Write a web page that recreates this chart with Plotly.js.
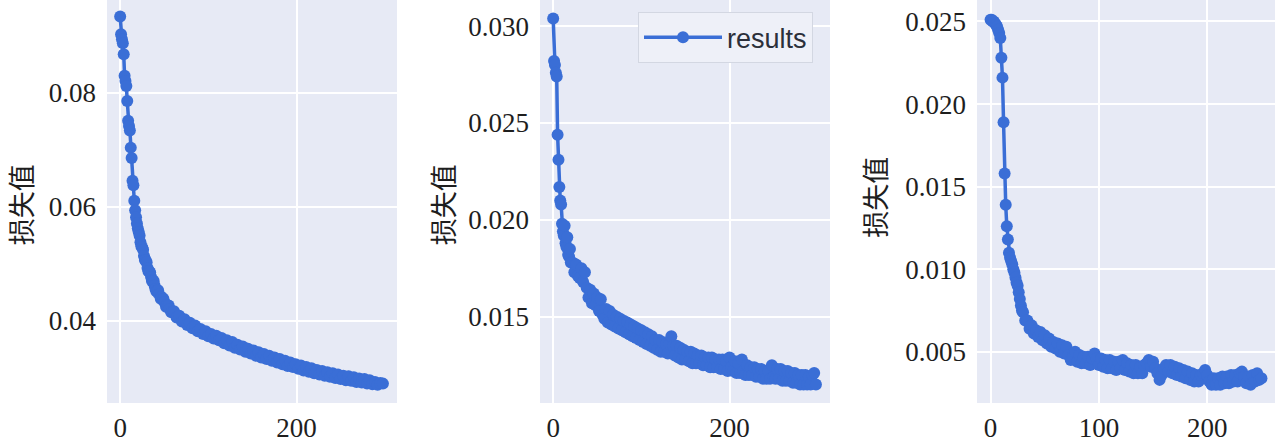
<!DOCTYPE html>
<html>
<head>
<meta charset="utf-8">
<script src="https://cdn.plot.ly/plotly-3.0.1.min.js"></script>
<style>html,body{margin:0;padding:0;background:#fff;}#chart{width:1280px;height:442px;}</style>
</head>
<body>
<div id="chart"></div>
<script>
// Panel 1
const epochs1 = [0,1,2,3,4,5,6,7,8,9,10,11,12,13,14,15,16,17,18,19,20,21,22,23,24,25,26,27,28,29,30,31,32,33,34,35,36,37,38,39,40,41,43,44,46,47,49,50,52,53,55,56,58,61,64,67,70,73,76,79,82,85,88,91,94,97,100,103,106,109,112,115,118,121,124,127,130,133,136,139,142,145,148,151,154,157,160,163,166,169,172,175,178,181,184,187,190,193,196,199,202,205,208,211,214,217,220,223,226,229,232,235,238,241,244,247,250,253,256,259,262,265,268,271,274,277,280,283,286,289,292,295,298];
const loss1 = [0.0934,0.0903,0.0894,0.0887,0.0868,0.0830,0.0821,0.0812,0.0786,0.0751,0.0742,0.0734,0.0704,0.0686,0.0646,0.0638,0.0611,0.0594,0.0582,0.0571,0.0562,0.0556,0.0550,0.0538,0.0531,0.0529,0.0525,0.0514,0.0507,0.0506,0.0503,0.0493,0.0487,0.0487,0.0485,0.0477,0.0470,0.0471,0.0470,0.0462,0.0456,0.0452,0.0454,0.0447,0.0439,0.0442,0.0439,0.0433,0.0425,0.0428,0.0427,0.0421,0.0415,0.0417,0.0406,0.0409,0.0399,0.0403,0.0393,0.0397,0.0387,0.0392,0.0382,0.0386,0.0377,0.0382,0.0373,0.0377,0.0369,0.0374,0.0366,0.0370,0.0361,0.0366,0.0357,0.0363,0.0353,0.0358,0.0350,0.0355,0.0346,0.0351,0.0343,0.0348,0.0339,0.0345,0.0336,0.0342,0.0333,0.0339,0.0330,0.0336,0.0327,0.0333,0.0324,0.0330,0.0321,0.0327,0.0319,0.0324,0.0316,0.0322,0.0313,0.0319,0.0311,0.0317,0.0308,0.0314,0.0306,0.0312,0.0304,0.0310,0.0302,0.0308,0.0300,0.0306,0.0298,0.0304,0.0296,0.0303,0.0295,0.0301,0.0293,0.0299,0.0292,0.0298,0.0290,0.0296,0.0289,0.0293,0.0288,0.0291,0.0290];

// Panel 2
const epochs2 = [0,1,2,3,4,5,6,7,8,9,10,11,12,13,14,15,16,17,18,19,20,22,24,26,28,30,32,34,36,38,40,42,44,46,48,50,52,54,56,58,60,62,64,66,68,70,72,74,76,78,80,82,84,86,88,90,92,94,96,98,100,102,104,106,108,110,112,114,116,118,120,122,124,126,128,130,132,134,136,138,140,142,144,146,148,150,152,154,156,158,160,162,164,166,168,170,172,174,176,178,180,182,184,186,188,190,192,194,196,198,200,202,204,206,208,210,212,214,216,218,220,222,224,226,228,230,232,234,236,238,240,242,244,246,248,250,252,254,256,258,260,262,264,266,268,270,272,274,276,278,280,282,284,286,288,290,292,294,296,298];
const loss2 = [0.0304,0.0282,0.0280,0.0276,0.0274,0.0244,0.0231,0.0217,0.0210,0.0208,0.0198,0.0194,0.0192,0.0197,0.0188,0.0186,0.0191,0.0182,0.0181,0.0185,0.0178,0.0178,0.0173,0.0177,0.0171,0.0170,0.0175,0.0168,0.0173,0.0165,0.0160,0.0164,0.0157,0.0162,0.0156,0.0160,0.0153,0.0159,0.0151,0.0149,0.0154,0.0147,0.0153,0.0146,0.0151,0.0145,0.0150,0.0144,0.0149,0.0143,0.0148,0.0142,0.0147,0.0141,0.0146,0.0140,0.0145,0.0139,0.0144,0.0138,0.0143,0.0137,0.0142,0.0136,0.0141,0.0135,0.0140,0.0134,0.0138,0.0133,0.0138,0.0132,0.0137,0.0132,0.0136,0.0131,0.0136,0.0140,0.0135,0.0130,0.0135,0.0129,0.0134,0.0128,0.0133,0.0128,0.0132,0.0127,0.0132,0.0126,0.0131,0.0126,0.0130,0.0126,0.0130,0.0125,0.0129,0.0125,0.0129,0.0124,0.0129,0.0124,0.0128,0.0124,0.0128,0.0123,0.0128,0.0123,0.0127,0.0122,0.0129,0.0124,0.0122,0.0127,0.0121,0.0126,0.0121,0.0128,0.0122,0.0120,0.0125,0.0120,0.0124,0.0120,0.0124,0.0119,0.0123,0.0119,0.0123,0.0118,0.0122,0.0118,0.0122,0.0118,0.0125,0.0119,0.0118,0.0123,0.0118,0.0123,0.0117,0.0122,0.0117,0.0122,0.0117,0.0121,0.0116,0.0121,0.0116,0.0120,0.0115,0.0120,0.0115,0.0120,0.0115,0.0119,0.0115,0.0120,0.0121,0.0115];

// Panel 3
const epochs3 = [0,1,2,3,4,5,6,7,8,9,10,11,12,13,14,15,16,17,18,19,20,21,22,23,24,25,26,27,28,29,30,32,34,36,38,40,42,44,46,48,50,52,54,56,58,60,62,64,66,68,70,72,74,76,78,80,82,84,86,88,90,92,94,96,98,100,102,104,106,108,110,112,114,116,118,120,122,124,126,128,130,132,134,136,138,140,142,144,146,148,150,152,154,156,158,160,162,164,166,168,170,172,174,176,178,180,182,184,186,188,190,192,194,196,198,200,202,204,206,208,210,212,214,216,218,220,222,224,226,228,230,232,234,236,238,240,242,244,246,248,250];
const loss3 = [0.0251,0.0251,0.0250,0.0250,0.0249,0.0248,0.0247,0.0245,0.0243,0.0240,0.0228,0.0216,0.0189,0.0158,0.0139,0.0126,0.0118,0.0110,0.0107,0.0105,0.0103,0.0100,0.0098,0.0095,0.0092,0.0090,0.0086,0.0082,0.0078,0.0075,0.0074,0.0069,0.0069,0.0064,0.0066,0.0061,0.0063,0.0059,0.0062,0.0057,0.0060,0.0055,0.0058,0.0053,0.0056,0.0052,0.0055,0.0050,0.0054,0.0049,0.0053,0.0048,0.0045,0.0047,0.0050,0.0044,0.0048,0.0043,0.0047,0.0043,0.0047,0.0042,0.0046,0.0049,0.0046,0.0042,0.0046,0.0041,0.0045,0.0040,0.0045,0.0040,0.0044,0.0039,0.0044,0.0040,0.0045,0.0039,0.0043,0.0038,0.0042,0.0037,0.0042,0.0037,0.0041,0.0037,0.0042,0.0043,0.0045,0.0041,0.0044,0.0040,0.0037,0.0033,0.0036,0.0040,0.0042,0.0038,0.0042,0.0037,0.0041,0.0036,0.0040,0.0035,0.0039,0.0034,0.0038,0.0033,0.0037,0.0032,0.0036,0.0032,0.0036,0.0037,0.0039,0.0036,0.0032,0.0030,0.0034,0.0030,0.0034,0.0030,0.0035,0.0031,0.0035,0.0031,0.0036,0.0032,0.0036,0.0032,0.0037,0.0038,0.0035,0.0031,0.0035,0.0030,0.0036,0.0032,0.0037,0.0033,0.0034];

const seriesName = 'results';
const yTitle = '损失值';
const xTicks1 = [0, 200];
const xTicks2 = [0, 200];
const xTicks3 = [0, 100, 200];
const yTicks1 = [0.04, 0.06, 0.08];
const yTicks2 = [0.015, 0.020, 0.025, 0.030];
const yTicks3 = [0.005, 0.010, 0.015, 0.020, 0.025];

const blue = '#3a6ed6';
function tr(x, y, xa, ya, show) {
  return {x: x, y: y, xaxis: xa, yaxis: ya, type: 'scatter', mode: 'lines+markers',
    name: seriesName, showlegend: show,
    line: {color: blue, width: 3.5}, marker: {color: blue, size: 12}};
}
const data = [
  tr(epochs1, loss1, 'x', 'y', false),
  tr(epochs2, loss2, 'x2', 'y2', true),
  tr(epochs3, loss3, 'x3', 'y3', false)
];
const tickFont = {family: 'Liberation Serif, Times New Roman, serif', size: 27, color: '#1e1e1e'};
function xax(dom, rng, tv, anchor) {
  return {domain: dom, range: rng, tickvals: tv, ticktext: tv.map(String), anchor: anchor,
    showgrid: true, gridcolor: '#ffffff', gridwidth: 2, zeroline: false, showline: false,
    ticks: '', tickfont: tickFont, ticklabelstandoff: 6};
}
function yax(rng, tv, fmt, anchor) {
  return {domain: [0, 1], range: rng, tickvals: tv, ticktext: tv.map(v => v.toFixed(fmt)), anchor: anchor,
    showgrid: true, gridcolor: '#ffffff', gridwidth: 2, zeroline: false, showline: false,
    ticks: '', tickfont: tickFont, ticklabelstandoff: 10};
}
const titleFont = {family: 'Noto Sans CJK SC', size: 27, color: '#1e1e1e'};
function ytitle(xpx, ypaper) {
  return {text: yTitle, xref: 'paper', yref: 'paper', x: xpx / 1280, y: ypaper,
    xanchor: 'center', yanchor: 'middle', textangle: -90, showarrow: false, font: titleFont};
}
const layout = {
  width: 1280, height: 442,
  margin: {l: 0, r: 0, t: 0, b: 39},
  paper_bgcolor: '#ffffff', plot_bgcolor: '#e7eaf5',
  xaxis: xax([107/1280, 397/1280], [-14.95, 313.95], xTicks1, 'y'),
  yaxis: yax([0.0256, 0.0963], yTicks1, 2, 'x'),
  xaxis2: xax([540/1280, 830/1280], [-14.95, 313.95], xTicks2, 'y2'),
  yaxis2: yax([0.01055, 0.03135], yTicks2, 3, 'x2'),
  xaxis3: xax([977/1280, 1275/1280], [-12.5, 262.5], xTicks3, 'y3'),
  yaxis3: yax([0.0019, 0.0263], yTicks3, 3, 'x3'),
  annotations: [ytitle(20, 0.491), ytitle(442, 0.491), ytitle(875, 0.509)],
  legend: {x: 638/1280, y: 0.97, xanchor: 'left', yanchor: 'top', bgcolor: '#eef0f8',
    bordercolor: '#d3d7e2', borderwidth: 1, itemwidth: 78,
    font: {family: 'Liberation Sans, Arial, sans-serif', size: 27, color: '#2b2f3a'}},
  showlegend: true
};
Plotly.newPlot('chart', data, layout, {displayModeBar: false, staticPlot: true});
</script>
</body>
</html>
